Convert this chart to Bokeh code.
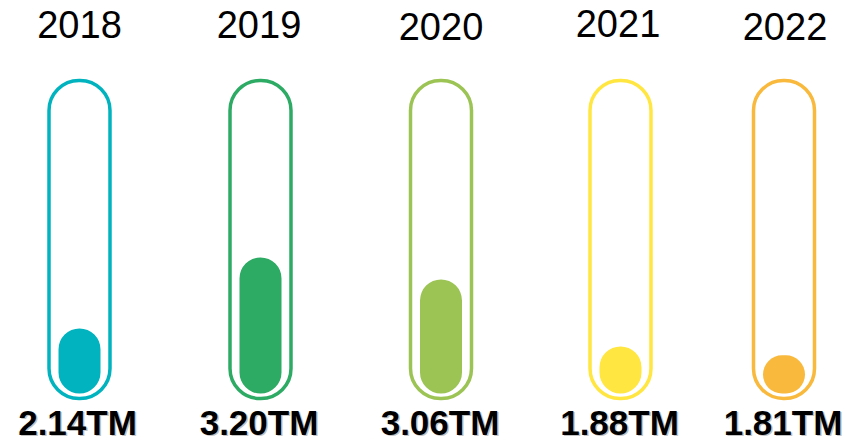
from bokeh.plotting import figure
from bokeh.models import Range1d, ColumnDataSource
from bokeh.embed import file_html
from bokeh.resources import INLINE
from bokeh.core.properties import value

# ---- data ----
years = ["2018", "2019", "2020", "2021", "2022"]
amounts = [2.14, 3.20, 3.06, 1.88, 1.81]          # in TM
fill_pct = [21.0, 43.9, 36.8, 15.2, 12.3]          # fill level of each tube (% of tube height)
colors = ["#00B3BE", "#2DAA64", "#9CC455", "#FFE640", "#F8B93C"]

labels = [f"{a:.2f}TM" for a in amounts]

# ---- layout ----
x_pos = [79, 260, 440.5, 620, 783.5]
year_x = [79, 258.5, 440.5, 617.5, 784.5]
year_py = [24, 24, 26, 22.5, 25.5]      # page-pixel centre of each year label
label_x = [77, 258.5, 439.5, 619, 782.5]
W, H = 845, 442
PX = 3.1  # pixels per percent unit

p = figure(width=W, height=H, output_backend="svg", toolbar_location=None,
           x_range=Range1d(0, W),
           y_range=Range1d(-(H - 393) / PX, 393 / PX),
           min_border=0)
p.axis.visible = False
p.grid.visible = False
p.outline_line_color = None
p.background_fill_color = "white"
p.border_fill_color = "white"

src = ColumnDataSource(dict(
    x=x_pos, year=years, label=labels, fill=fill_pct, color=colors,
    year_x=year_x, year_y=[(393 - v) / PX for v in year_py], label_x=label_x,
    left_o=[x - 30.5 for x in x_pos], right_o=[x + 30.5 for x in x_pos],
    left_i=[x - 21 for x in x_pos], right_i=[x + 21 for x in x_pos],
))

tube_bottom = -(398 - 393) / PX
tube_top = (393 - 80) / PX

# outer tubes
p.quad(left="left_o", right="right_o", bottom=tube_bottom, top=tube_top,
       source=src, fill_color=None, line_color="color", line_width=3.5,
       border_radius=30)

# fill levels
p.quad(left="left_i", right="right_i", bottom=0, top="fill",
       source=src, fill_color="color", line_color=None, border_radius=21)

# year labels
p.text(x="year_x", y="year_y", text="year", source=src,
       text_font=value("Liberation Sans"), text_font_size="38px",
       text_color="black", text_align="center", text_baseline="middle")

# amount labels with a soft shadow
ly = (393 - 421.5) / PX
p.text(x="label_x", y=ly, text="label", source=src,
       text_font=value("Liberation Sans"), text_font_size="35px",
       text_font_style="bold", text_color="#888888", text_alpha=0.5,
       x_offset=1.5, y_offset=1.5,
       text_align="center", text_baseline="middle")
p.text(x="label_x", y=ly, text="label", source=src,
       text_font=value("Liberation Sans"), text_font_size="35px",
       text_font_style="bold", text_color="black",
       text_align="center", text_baseline="middle")

open("out.html", "w").write(file_html(p, INLINE))
